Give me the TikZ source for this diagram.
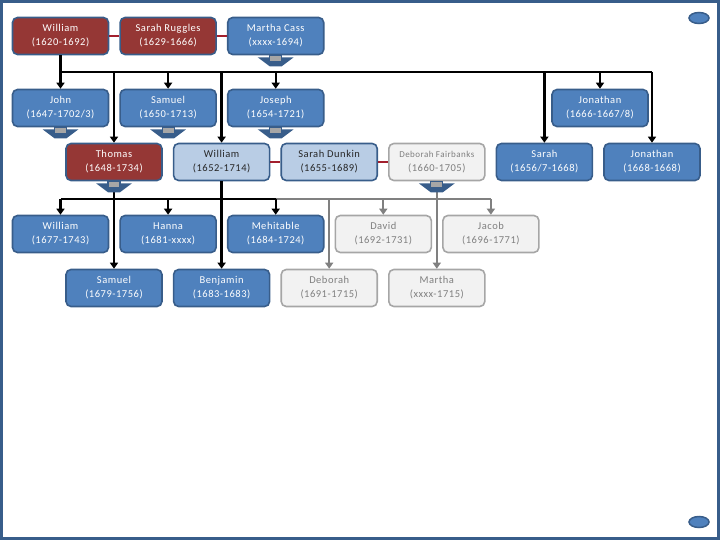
\documentclass[tikz,border=0pt]{standalone}
\usepackage{fontspec}
\setmainfont{Carlito}[LetterSpace=5]
\usetikzlibrary{arrows.meta,positioning}
\definecolor{boxblue}{HTML}{4F81BD}
\definecolor{edgeblue}{HTML}{385D8A}
\definecolor{boxred}{HTML}{953735}
\definecolor{paleblue}{HTML}{B9CDE5}
\definecolor{ghostfill}{HTML}{F2F2F2}
\definecolor{ghostedge}{HTML}{A6A6A6}
\definecolor{ghosttext}{HTML}{7F7F7F}
\definecolor{ghostline}{HTML}{808080}
\definecolor{linkred}{HTML}{A21F2D}
\definecolor{dropgrey}{HTML}{A6A6A6}

\begin{document}
\begin{tikzpicture}[
    x=1pt, y=-1pt,
    node distance=10pt,
    every node/.style={font=\fontsize{10.5}{14}\selectfont},
    person/.style={draw=edgeblue, line width=1.6pt, rounded corners=5pt, fill=boxblue, text=white, align=center, minimum width=96pt, minimum height=37pt, inner sep=1pt},
    elder/.style={person, fill=boxred},
    direct/.style={person, fill=paleblue, text=black!85},
    inlaw/.style={person, draw=ghostedge, fill=ghostfill, text=ghosttext},
    spouse/.style={draw=linkred, line width=2.2pt},
    bus/.style={line width=2.4pt},
    kid/.style={-{Triangle[width=8pt,length=6pt]}, line width=2.4pt},
    ghostbus/.style={ghostline, line width=2.2pt},
    ghostkid/.style={-{Triangle[width=8pt,length=6pt]}, ghostline, line width=2.2pt},
    drop/.pic={
        \fill[edgeblue] (-18,2) -- (18,2) -- (6,11) -- (-6,11) -- cycle;
        \filldraw[fill=dropgrey, draw=edgeblue, line width=1.2pt] (-6,0) rectangle (6,6);
    }
]
\useasboundingbox (0,0) rectangle (720,540);
\draw[edgeblue, line width=2.5pt] (1.5,1.5) rectangle (718.5,538.5);
\filldraw[fill=boxblue, draw=edgeblue, line width=1.5pt] (699,18) ellipse (10 and 5.5);
\filldraw[fill=boxblue, draw=edgeblue, line width=1.5pt] (699,522) ellipse (10 and 5.5);

% first generation
\node[elder] (william) at (60.5,36) {William\\(1620-1692)};
\node[elder, right=of william] (sarahR) {Sarah Ruggles\\(1629-1666)};
\node[person, right=of sarahR] (marthaC) {Martha Cass\\(xxxx-1694)};

% second generation
\node[person] (john) at (60.5,108) {John\\(1647-1702/3)};
\node[person, right=of john] (samuel) {Samuel\\(1650-1713)};
\node[person, right=of samuel] (joseph) {Joseph\\(1654-1721)};
\node[person] (jonathanA) at (600,108) {Jonathan\\(1666-1667/8)};
\node[elder] (thomas) at (114,162) {Thomas\\(1648-1734)};
\node[direct, right=of thomas] (williamB) {William\\(1652-1714)};
\node[direct, right=of williamB] (sarahD) {Sarah Dunkin\\(1655-1689)};
\node[inlaw, right=of sarahD] (deborahF) {{\fontsize{9}{14}\selectfont Deborah Fairbanks}\\(1660-1705)};
\node[person, right=of deborahF] (sarah) {Sarah\\(1656/7-1668)};
\node[person, right=of sarah] (jonathanB) {Jonathan\\(1668-1668)};

% third generation
\node[person] (williamC) at (60.5,234) {William\\(1677-1743)};
\node[person, right=of williamC] (hanna) {Hanna\\(1681-xxxx)};
\node[person, right=of hanna] (mehitable) {Mehitable\\(1684-1724)};
\node[inlaw, right=of mehitable] (david) {David\\(1692-1731)};
\node[inlaw, right=of david] (jacob) {Jacob\\(1696-1771)};
\node[person] (samuelB) at (114,288) {Samuel\\(1679-1756)};
\node[person, right=of samuelB] (benjamin) {Benjamin\\(1683-1683)};
\node[inlaw, right=of benjamin] (deborahB) {Deborah\\(1691-1715)};
\node[inlaw, right=of deborahB] (martha) {Martha\\(xxxx-1715)};

% marriages
\draw[spouse] (william.east) -- (sarahR.west);
\draw[spouse] (sarahR.east) -- (marthaC.west);
\draw[spouse] (williamB.east) -- (sarahD.west);
\draw[spouse] (sarahD.east) -- (deborahF.west);

% children of William
\coordinate (busA) at (0,72);
\draw[kid] (william.south) -- (john.north);
\draw[bus] (john.north |- busA) -- (jonathanB.north |- busA);
\foreach \k in {samuel,joseph,jonathanA,thomas,williamB,sarah,jonathanB}
    \draw[kid] (\k.north |- busA) -- (\k.north);

% children of William (1652)
\coordinate (busB) at (0,199);
\draw[ghostbus] (mehitable.north |- busB) -- (jacob.north |- busB);
\draw[ghostkid] (deborahF.south) -- (martha.north);
\foreach \k in {deborahB,david,jacob}
    \draw[ghostkid] (\k.north |- busB) -- (\k.north);
\draw[bus] (williamC.north |- busB) -- (mehitable.north |- busB);
\draw[kid] (thomas.south) -- (samuelB.north);
\draw[kid] (williamB.south) -- (benjamin.north);
\foreach \k in {williamC,hanna,mehitable}
    \draw[kid] (\k.north |- busB) -- (\k.north);

% family arrows
\foreach \k in {marthaC,john,samuel,joseph,thomas,deborahF}
    \pic at (\k.south) {drop};
\end{tikzpicture}
\end{document}
